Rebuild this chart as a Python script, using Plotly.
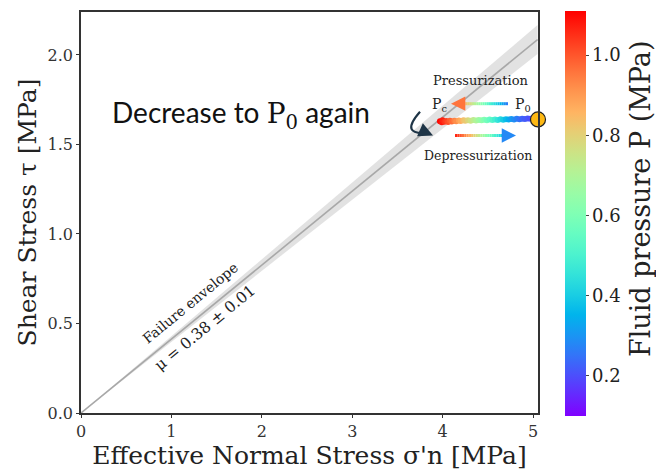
import numpy as np
import plotly.graph_objects as go

# Friction-stress path during pressurization / depressurization
sigma_eff = [3.97, 3.99, 4.00, 4.02, 4.04, 4.06, 4.08, 4.10, 4.13, 4.15,
             4.18, 4.20, 4.23, 4.25, 4.28, 4.31, 4.34, 4.37, 4.40, 4.43,
             4.46, 4.49, 4.52, 4.55, 4.58, 4.61, 4.64, 4.67, 4.70, 4.73,
             4.76, 4.79, 4.82, 4.85, 4.88, 4.91, 4.94, 4.97]
shear = [1.630, 1.624, 1.635, 1.627, 1.631, 1.626, 1.632, 1.629, 1.633, 1.630,
         1.634, 1.631, 1.635, 1.632, 1.636, 1.633, 1.637, 1.634, 1.637, 1.635,
         1.638, 1.636, 1.639, 1.637, 1.640, 1.637, 1.641, 1.638, 1.641, 1.639,
         1.642, 1.640, 1.643, 1.641, 1.644, 1.642, 1.645, 1.643]
pressure = [1.10, 1.08, 1.07, 1.05, 1.03, 1.01, 0.99, 0.97, 0.94, 0.92,
            0.89, 0.87, 0.84, 0.82, 0.79, 0.76, 0.73, 0.70, 0.67, 0.64,
            0.61, 0.58, 0.55, 0.52, 0.49, 0.46, 0.43, 0.40, 0.37, 0.34,
            0.31, 0.29, 0.27, 0.25, 0.23, 0.22, 0.21, 0.20]

# Initial state P0
start_sigma = [5.055]
start_shear = [1.640]

# Failure envelope and its uncertainty band
env_sigma = [0.0, 5.05]
env_tau = [0.0, 2.086]
band_lo = [0.0, 2.005]
band_hi = [0.0, 2.167]

x_ticks = [0, 1, 2, 3, 4, 5]
y_ticks = [0.0, 0.5, 1.0, 1.5, 2.0]
cbar_ticks = [0.2, 0.4, 0.6, 0.8, 1.0]
P_MIN, P_MAX = 0.10, 1.11

SERIF = "DejaVu Serif"


def rainbow(t):
    r = min(1.0, abs(2 * t - 0.5))
    g = np.sin(np.pi * t)
    b = np.cos(np.pi * t / 2)
    return "rgb(%d,%d,%d)" % (round(r * 255), round(g * 255), round(b * 255))


rainbow_scale = [[t, rainbow(t)] for t in np.linspace(0, 1, 21)]

fig = go.Figure()

# uncertainty band
fig.add_trace(go.Scatter(x=env_sigma, y=band_lo, mode="lines",
                         line=dict(width=0), hoverinfo="skip", showlegend=False))
fig.add_trace(go.Scatter(x=env_sigma, y=band_hi, mode="lines", fill="tonexty",
                         fillcolor="rgba(190,190,190,0.45)", line=dict(width=0),
                         hoverinfo="skip", showlegend=False))
# envelope line
fig.add_trace(go.Scatter(x=env_sigma, y=env_tau, mode="lines",
                         line=dict(color="#a8a8a8", width=1.6),
                         hoverinfo="skip", showlegend=False))

# stress path coloured by fluid pressure
fig.add_trace(go.Scatter(
    x=sigma_eff, y=shear, mode="markers", showlegend=False,
    marker=dict(size=6, color=pressure, colorscale=rainbow_scale,
                cmin=P_MIN, cmax=P_MAX, line=dict(width=0),
                colorbar=dict(
                    x=1.059, xanchor="left", xref="paper", xpad=0,
                    y=0.4975, yanchor="middle", ypad=0, len=405, lenmode="pixels",
                    thickness=21, outlinewidth=0,
                    tickvals=cbar_ticks, ticktext=["%.1f" % v for v in cbar_ticks],
                    ticks="outside", ticklen=3, tickcolor="#444",
                    tickfont=dict(family=SERIF, size=18, color="#222"),
                ))))

# starting point
fig.add_trace(go.Scatter(x=start_sigma, y=start_shear, mode="markers",
                         marker=dict(size=15, color="#fdb813",
                                     line=dict(color="#222", width=1.2)),
                         cliponaxis=False, showlegend=False))


def px2data(px, py):
    return (px - 81) / 90.4, (413 - py) / 180.0


shapes = []


def gradient_arrow(p_from, p_to, t_from, t_to, n=24, width=3):
    (x0, y0), (x1, y1) = px2data(*p_from), px2data(*p_to)
    for i in range(n):
        a, b = i / n, (i + 1) / n
        t = t_from + (t_to - t_from) * (a + b) / 2
        shapes.append(dict(type="line", xref="x", yref="y",
                           x0=x0 + (x1 - x0) * a, y0=y0 + (y1 - y0) * a,
                           x1=x0 + (x1 - x0) * b, y1=y0 + (y1 - y0) * b,
                           line=dict(color=rainbow(t), width=width)))


# Pressurization arrow (P0 -> Pc)
gradient_arrow((508, 102), (457, 102), 0.15, 0.85)
# Depressurization arrow
gradient_arrow((455, 134), (510, 134), 0.97, 0.18)

# curved arrow
c0 = px2data(420, 110)
c1 = px2data(399, 134)
c2 = px2data(428, 131)
shapes.append(dict(type="path", xref="x", yref="y",
                   path="M %f,%f Q %f,%f %f,%f" % (c0[0], c0[1], c1[0], c1[1], c2[0], c2[1]),
                   line=dict(color="#1e3446", width=2.2)))

annotations = []
# arrow heads
for (tip, col, ax, ay) in [((451, 102), rainbow(0.85), 10, 0),
                           ((516, 134), rainbow(0.18), -10, 0),
                           ((433, 134), "#1e3446", -9, -4)]:
    tx, ty = px2data(*tip)
    annotations.append(dict(x=tx, y=ty, xref="x", yref="y", ax=ax, ay=ay,
                            text="", showarrow=True, arrowhead=2, arrowsize=1.1,
                            arrowwidth=2.6, arrowcolor=col))


def label(px, py, text, size, angle=0, family=SERIF, color="#222"):
    x, y = px2data(px, py)
    annotations.append(dict(x=x, y=y, xref="x", yref="y", text=text,
                            showarrow=False, textangle=angle,
                            font=dict(family=family, size=size, color=color),
                            xanchor="center", yanchor="middle"))


label(481, 79, "Pressurization", 13)
label(478, 154, "Depressurization", 12.5)
label(439, 103, "P<sub>c</sub>", 14)
label(523, 103, "P<sub>0</sub>", 14)
label(190, 302, "Failure envelope", 14, angle=-39.4)
label(205, 328, "μ = 0.38 ± 0.01", 15.5, angle=-39.4)
label(241, 113,
      "Decrease to <span style='font-family:DejaVu Serif'>P<sub>0</sub></span> again",
      28, family="Lato", color="#111")

# colour bar title, positioned in paper coordinates
annotations.append(dict(x=(640 - 81) / 457.0, y=(413 - 198) / 403.0,
                        xref="paper", yref="paper", text="Fluid pressure P (MPa)",
                        showarrow=False, textangle=-90,
                        font=dict(family=SERIF, size=27, color="#222"),
                        xanchor="center", yanchor="middle"))

axis_common = dict(showline=True, linecolor="#333", linewidth=1.5, mirror=True,
                   ticks="outside", ticklen=3, tickcolor="#333",
                   showgrid=False, zeroline=False,
                   tickfont=dict(family=SERIF, size=16, color="#333"))

fig.update_layout(
    width=656, height=472,
    margin=dict(l=81, r=118, t=10, b=59),
    paper_bgcolor="white", plot_bgcolor="white",
    xaxis=dict(range=[0, 5.055], tickvals=x_ticks, ticktext=[str(v) for v in x_ticks],
               title=dict(text="Effective Normal Stress σ'n [MPa]", standoff=4,
                          font=dict(family=SERIF, size=25, color="#222")),
               **axis_common),
    yaxis=dict(range=[0, 2.24], tickvals=y_ticks, ticktext=["%.1f" % v for v in y_ticks],
               title=dict(text="Shear Stress τ [MPa]", standoff=4,
                          font=dict(family=SERIF, size=25, color="#222")),
               **axis_common),
    shapes=shapes,
    annotations=annotations,
)

fig.write_html("out.html")
